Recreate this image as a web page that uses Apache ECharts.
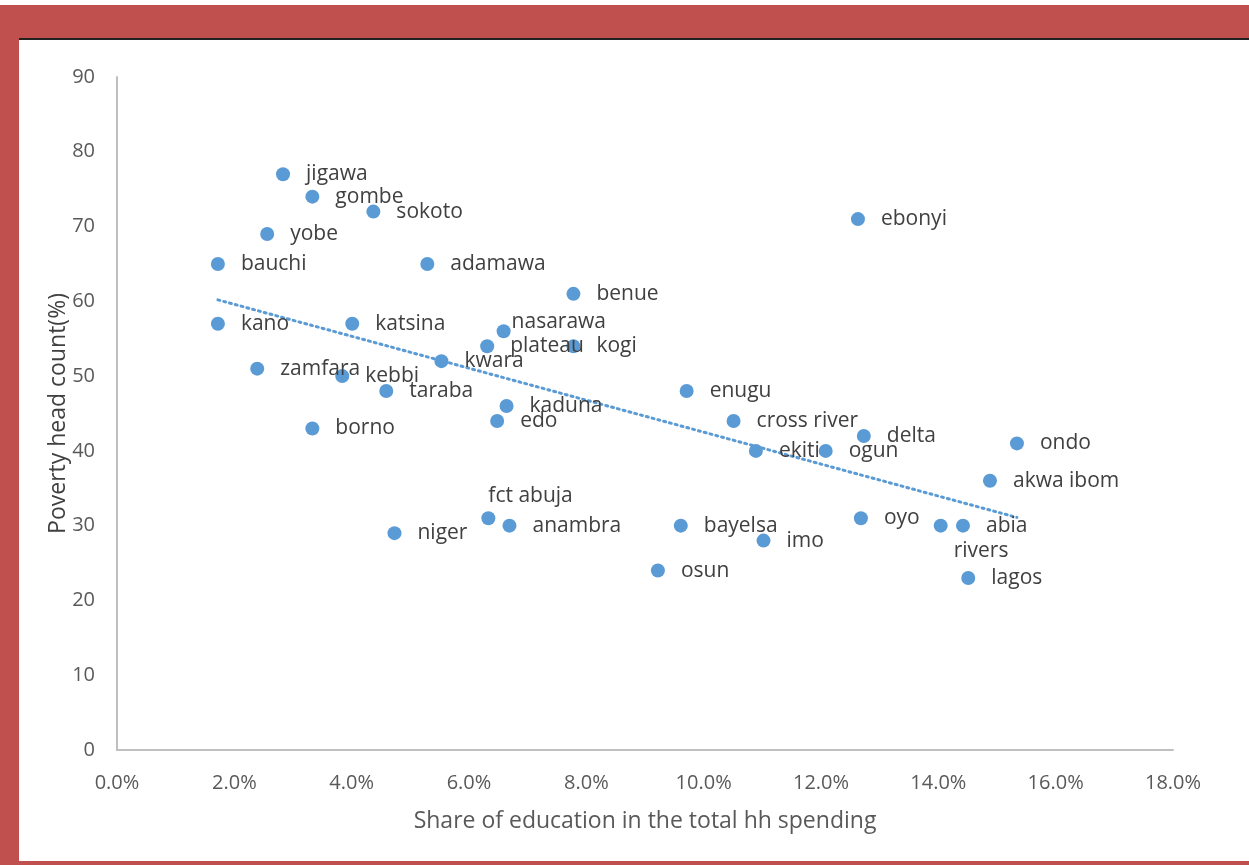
<!DOCTYPE html>
<html>
<head>
<meta charset="utf-8">
<script src="https://cdn.jsdelivr.net/npm/echarts@6/dist/echarts.min.js"></script>
<style>
  html, body { margin: 0; padding: 0; background: #fff; }
  #wrap { position: relative; width: 1249px; height: 865px; overflow: hidden; }
  .band { position: absolute; background: #c0504d; }
  #main { position: absolute; left: 0; top: 0; width: 1249px; height: 865px; }
</style>
</head>
<body>
<div id="wrap">
  <div class="band" style="left:0;top:5px;width:1249px;height:33px"></div>
  <div class="band" style="left:0;top:5px;width:19px;height:860px"></div>
  <div class="band" style="left:0;top:861px;width:1249px;height:4px"></div>
  <div style="position:absolute;left:19px;top:38px;width:1230px;height:2px;background:#222"></div>
  <div id="main"></div>
</div>
<script>
// states and values
var states = ['jigawa', 'gombe', 'sokoto', 'yobe', 'bauchi', 'adamawa', 'benue', 'kano',
  'katsina', 'nasarawa', 'plateau', 'kogi', 'kwara', 'zamfara', 'kebbi', 'taraba',
  'enugu', 'kaduna', 'borno', 'edo', 'cross river', 'delta', 'ekiti', 'ogun', 'ondo',
  'akwa ibom', 'ebonyi', 'fct abuja', 'anambra', 'niger', 'bayelsa', 'imo', 'osun',
  'oyo', 'rivers', 'abia', 'lagos']
// share of education in total hh spending (%)
var eduShare = [2.83, 3.33, 4.37, 2.56, 1.72, 5.29, 7.78, 1.72,
  4.01, 6.59, 6.31, 7.78, 5.53, 2.39, 3.84, 4.59,
  9.71, 6.64, 3.33, 6.48, 10.51, 12.73, 10.89, 12.08, 15.34,
  14.88, 12.63, 6.33, 6.69, 4.73, 9.61, 11.02, 9.22,
  12.68, 14.04, 14.42, 14.51]
// poverty head count (%)
var poverty = [77, 74, 72, 69, 65, 65, 61, 57,
  57, 56, 54, 54, 52, 51, 50, 48,
  48, 46, 43, 44, 44, 42, 40, 40, 41,
  36, 71, 31, 30, 29, 30, 28, 24,
  31, 30, 30, 23]
// linear trend end points
var trendX = [1.72, 15.34]
var trendY = [60.2, 31.1]
var xTicks = [0, 2, 4, 6, 8, 10, 12, 14, 16, 18]

// labels moved by hand in the original
var labelTweaks = {
  'nasarawa': { distance: 1, offset: [0, -9] },
  'fct abuja': { distance: -7, offset: [0, -22] },
  'rivers': { distance: 6, offset: [0, 25] }
}

var points = states.map(function (name, i) {
  var item = { name: name, value: [eduShare[i], poverty[i]] }
  if (labelTweaks[name]) item.label = labelTweaks[name]
  return item
})

var font = 'Open Sans'
var grey = '#595959'

var myChart = echarts.init(document.getElementById('main'))
myChart.setOption({
  animation: false,
  textStyle: { fontFamily: font },
  grid: { left: 117, right: 76, top: 77, bottom: 115 },
  xAxis: {
    type: 'value',
    min: xTicks[0],
    max: xTicks[xTicks.length - 1],
    interval: 2,
    name: 'Share of education in the total hh spending',
    nameLocation: 'middle',
    nameGap: 60,
    nameTextStyle: { color: grey, fontSize: 23, fontFamily: font },
    axisLine: { lineStyle: { color: '#bfbfbf', width: 2 } },
    axisTick: { show: false },
    splitLine: { show: false },
    axisLabel: {
      color: grey, fontSize: 20, fontFamily: font, margin: 23,
      formatter: function (v) { return v.toFixed(1) + '%' }
    }
  },
  yAxis: {
    type: 'value',
    min: 0,
    max: 90,
    interval: 10,
    name: 'Poverty head count(%)',
    nameLocation: 'middle',
    nameGap: 47,
    nameMoveOverlap: false,
    nameTextStyle: { color: '#404040', fontSize: 23, fontFamily: font },
    axisLine: { show: true, lineStyle: { color: '#bfbfbf', width: 2 } },
    axisTick: { show: false },
    splitLine: { show: false },
    axisLabel: { color: grey, fontSize: 20, fontFamily: font, margin: 22 }
  },
  series: [
    {
      type: 'line',
      data: trendX.map(function (x, i) { return [x, trendY[i]] }),
      symbol: 'none',
      lineStyle: { color: '#5b9bd5', width: 3, type: [2, 4], cap: 'round' },
      z: 1
    },
    {
      type: 'scatter',
      data: points,
      symbolSize: 14,
      itemStyle: { color: '#5b9bd5', opacity: 1 },
      label: {
        show: true,
        position: 'right',
        distance: 16,
        formatter: '{b}',
        color: '#404040',
        fontSize: 21,
        fontFamily: font
      },
      z: 2
    }
  ]
})

window.onresize = function () {
  myChart.resize()
}
</script>
</body>
</html>
